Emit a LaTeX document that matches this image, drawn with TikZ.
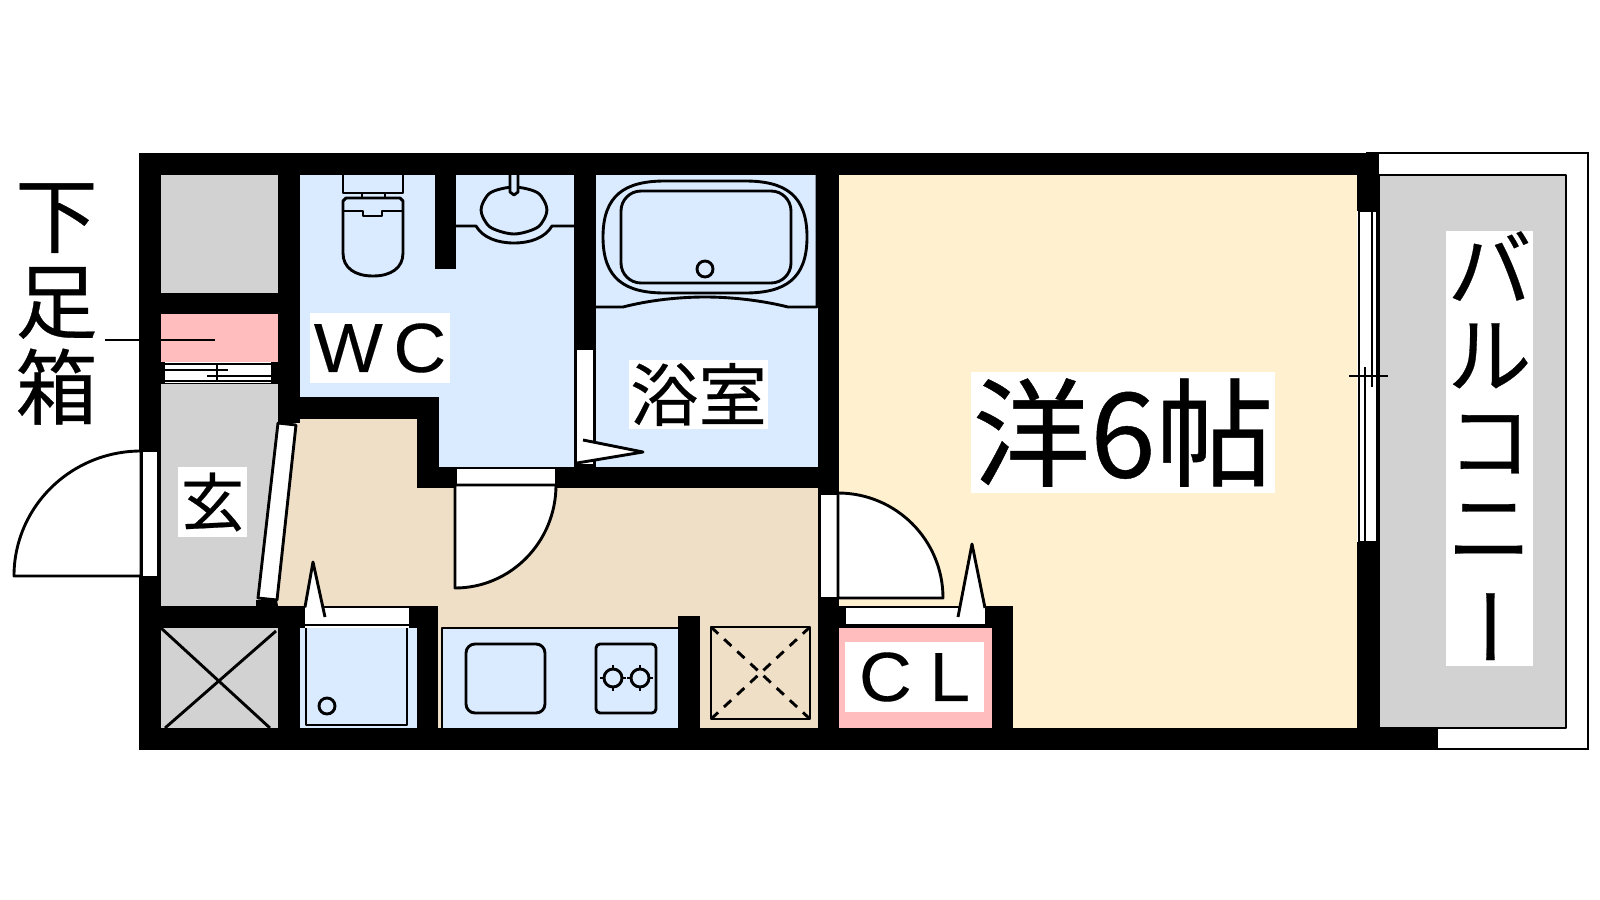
\documentclass[tikz,border=0pt]{standalone}
\usepackage{fontspec}
\setmainfont[FakeBold=0.35]{Noto Sans CJK JP}
\newfontfamily\latinfont[FakeStretch=1.05,FakeBold=0.2]{Liberation Sans}
\definecolor{wetblue}{HTML}{DBEBFF}
\definecolor{floorgray}{HTML}{D2D2D2}
\definecolor{closetpink}{HTML}{FFBDBD}
\definecolor{kitchentan}{HTML}{EFDFC6}
\definecolor{roomcream}{HTML}{FFF1D0}
\tikzset{
  fixture/.style={line width=0.82pt, line join=round},
  thinline/.style={line width=0.55pt},
  doorleaf/.style={fixture, fill=white},
  tag/.style={fill=white, inner sep=0pt, align=center}
}
\newcommand{\fsize}[2]{\fontsize{#1}{#2}\selectfont}
\begin{document}
\begin{tikzpicture}[x=0.01cm, y=-0.01cm]
\useasboundingbox[fill=white] (0, 0) rectangle (1600, 900);
% floors
\fill[floorgray] (161, 175) rectangle (278, 293);
\fill[closetpink] (161, 314) rectangle (278, 362);
\fill[floorgray] (161, 384) -- (278, 384) -- (278, 423) -- (256, 606) -- (161, 606) -- cycle;
\fill[floorgray] (161, 628) rectangle (278, 728);
\fill[wetblue] (300, 175) rectangle (574, 397);
\fill[wetblue] (439, 397) rectangle (574, 467);
\fill[wetblue] (596, 175) rectangle (818, 467);
\fill[wetblue] (300, 628) rectangle (417, 728);
\fill[kitchentan] (298, 419) -- (417, 419) -- (417, 488) -- (818, 488) -- (818, 728) -- (438, 728) -- (438, 606) -- (277, 606) -- cycle;
\fill[wetblue] (442, 628) rectangle (678, 728);
\fill[roomcream] (839, 175) rectangle (1357, 728);
\fill[closetpink] (839, 628) rectangle (992, 728);
% balcony
\draw[thinline, fill=white] (1367, 153) rectangle (1588, 749);
\draw[fixture, fill=floorgray] (1379, 175) rectangle (1566, 728);
% walls
\fill (139, 153) rectangle (1379, 175);
\fill (139, 153) rectangle (161, 750);
\fill (139, 728) rectangle (1438, 750);
\fill (139, 293) rectangle (300, 314);
\fill (161, 362) rectangle (300, 384);
\fill (278, 175) rectangle (300, 423);
\fill (278, 397) rectangle (439, 419);
\fill (417, 397) rectangle (439, 488);
\fill (417, 467) rectangle (839, 488);
\fill (435, 175) rectangle (456, 269);
\fill (574, 175) rectangle (596, 488);
\fill (818, 153) rectangle (839, 750);
\fill (256, 600) -- (277, 600) -- (278, 606) -- (256, 606) -- cycle;
\fill (139, 606) rectangle (305, 628);
\fill (409, 606) rectangle (438, 628);
\fill (417, 606) rectangle (438, 750);
\fill (278, 628) rectangle (300, 750);
\fill (678, 616) rectangle (700, 750);
\fill (839, 606) rectangle (1013, 628);
\fill (992, 606) rectangle (1013, 750);
\fill (1357, 153) rectangle (1379, 211);
\fill (1357, 542) rectangle (1379, 750);
% shoe cupboard
\fill[white] (165, 362) rectangle (271, 383);
\draw[fixture] (165, 364) -- (271, 364);
\draw[fixture] (165, 370) -- (228, 370);
\draw[fixture] (207, 376) -- (271, 376);
\draw[fixture] (165, 381) -- (271, 381);
\draw[fixture] (217, 364) -- (217, 381);
% entrance door
\draw[doorleaf] (141, 451) arc (-90:-180:127 and 125) -- (141, 576) -- cycle;
\fill[white] (143, 452) rectangle (157, 576);
% inner door by the entrance
\draw[fixture, fill=white] (278, 423) -- (296, 425) -- (277, 600) -- (258, 598) -- cycle;
% WC door
\fill[white] (457, 469) rectangle (555, 485);
\draw[fixture] (457, 485.5) -- (555, 485.5);
\draw[doorleaf] (455, 485) -- (556, 485) arc (0:90:101 and 103) -- cycle;
% bath door
\fill[white] (577, 350) rectangle (593, 464);
\draw[doorleaf] (583, 440) -- (643, 452) -- (577, 463);
% room door
\fill[white] (821, 495) rectangle (837, 597);
\draw[doorleaf] (838, 493) arc (-90:0:105) -- (838, 598) -- cycle;
% toilet
\draw[fixture] (343, 175) -- (343, 193) -- (403, 193) -- (403, 175);
\draw[fixture] (362, 193) -- (362, 199);
\draw[fixture] (385, 193) -- (385, 199);
\draw[fixture] (343, 253) .. controls (343, 268) and (355, 276) .. (373, 276) .. controls (391, 276) and (403, 268) .. (403, 253) -- (403, 201) -- (400, 198) -- (346, 198) -- (343, 201) -- cycle;
\draw[fixture] (343, 211) -- (363, 211) -- (363, 216) -- (382, 216) -- (382, 211) -- (403, 211);
% wash basin
\draw[fixture] plot [smooth cycle] coordinates {(481, 210) (490, 193) (514, 187) (538, 193) (547, 210) (538, 227) (514, 234) (490, 227)};
\draw[fixture, fill=wetblue] (510, 175) -- (510, 192) -- (514, 195) -- (518, 192) -- (518, 175);
\draw[fixture] (456, 226) -- (476, 226) .. controls (483, 238) and (498, 243) .. (514, 243) .. controls (530, 243) and (545, 238) .. (552, 226) -- (574, 226);
% bath tub
\draw[fixture] (603, 237) .. controls (603, 195) and (625, 181) .. (665, 181) -- (745, 181) .. controls (785, 181) and (807, 195) .. (807, 237) .. controls (807, 279) and (785, 293) .. (745, 293) -- (665, 293) .. controls (625, 293) and (603, 279) .. (603, 237) -- cycle;
\draw[fixture, rounded corners=0.2cm] (621, 191) rectangle (791, 283);
\draw[fixture] (705, 269) circle (8);
\draw[fixture] (596, 307) -- (623, 307) .. controls (650, 300) and (680, 297) .. (705, 297) .. controls (730, 297) and (760, 300) .. (788, 307) -- (817, 307) -- (817, 175);
% storage under the stairs
\draw[fixture] (161, 628) -- (270, 728);
\draw[fixture] (276, 631) -- (165, 728);
% washing machine corner
\fill[white] (305, 608) rectangle (409, 625);
\draw[fixture] (305, 607) -- (409, 607);
\draw[fixture] (305, 625) -- (409, 625);
\draw[doorleaf] (305, 607) -- (313, 562) -- (325, 617);
\draw[fixture] (306, 628) -- (306, 725) -- (407, 725) -- (407, 628);
\draw[fixture] (327, 706) circle (8);
% kitchen
\draw[fixture] (442, 728) -- (442, 628) -- (678, 628);
\draw[fixture, rounded corners=0.09cm] (466, 644) rectangle (545, 713);
\draw[fixture, rounded corners=0.04cm] (596, 644) rectangle (656, 713);
\draw[fixture] (600, 678) -- (626, 678);
\draw[fixture] (613, 665) -- (613, 691);
\fill[wetblue] (613, 678) circle (8);
\draw[fixture] (613, 678) circle (9);
\draw[fixture] (627, 678) -- (653, 678);
\draw[fixture] (640, 665) -- (640, 691);
\fill[wetblue] (640, 678) circle (8);
\draw[fixture] (640, 678) circle (9);
\draw[fixture] (711, 627) rectangle (810, 719);
\draw[fixture, dash pattern=on 2.8pt off 2.3pt] (711, 627) -- (810, 719);
\draw[fixture, dash pattern=on 2.8pt off 2.3pt] (810, 627) -- (711, 719);
% closet door
\fill[white] (846, 608) rectangle (985, 625);
\draw[fixture] (846, 607) -- (985, 607);
\draw[fixture] (846, 625) -- (985, 625);
\draw[doorleaf] (958, 617) -- (972, 544) -- (985, 608);
% window
\draw[fixture, fill=white] (1359, 211) rectangle (1377, 542);
\draw[fixture] (1372, 211) -- (1372, 387);
\draw[fixture] (1365, 367) -- (1365, 542);
\draw[fixture] (1349, 376) -- (1388, 376);
% labels
\node[tag, minimum width=1.39cm, minimum height=0.70cm, font=\latinfont\fsize{19.8pt}{20pt}] (wclabel) at (380, 348) {W\hspace{3pt}C};
\node[tag, minimum width=1.39cm, minimum height=0.69cm, font=\fsize{19.4pt}{20pt}] (bathlabel) at (698.5, 394.5) {浴室};
\node[tag, minimum width=0.69cm, minimum height=0.70cm, font=\fsize{18pt}{20pt}] (foyerlabel) at (212.5, 502) {玄};
\node[tag, minimum width=1.39cm, minimum height=0.70cm, font=\latinfont\fsize{19.8pt}{20pt}] (cllabel) at (914.5, 677) {C\hspace{5pt}L};
\node[tag, minimum width=3.04cm, minimum height=1.21cm, font=\fsize{33.5pt}{34pt}] (roomlabel) at (1123, 432.5) {洋6帖};
\fill[white] (1446, 231) rectangle (1533, 666);
\node[inner sep=0pt, align=center, font=\fsize{23.9pt}{24.5pt}] (balconylabel) at (1489.5, 450) {バ\\ル\\コ\\ニ\\\hspace*{0.3cm}\rotatebox[origin=c]{90}{ー}};
\node[inner sep=0pt, align=center, font=\fsize{23.4pt}{24.4pt}] (shoeslabel) at (56.5, 304) {下\\足\\箱};
% leader of the shoe cupboard
\coordinate (leaderout) at (105, 340);
\coordinate (leaderin) at (215, 340);
\draw[thinline] (leaderout) -- (leaderin);
\end{tikzpicture}
\end{document}
